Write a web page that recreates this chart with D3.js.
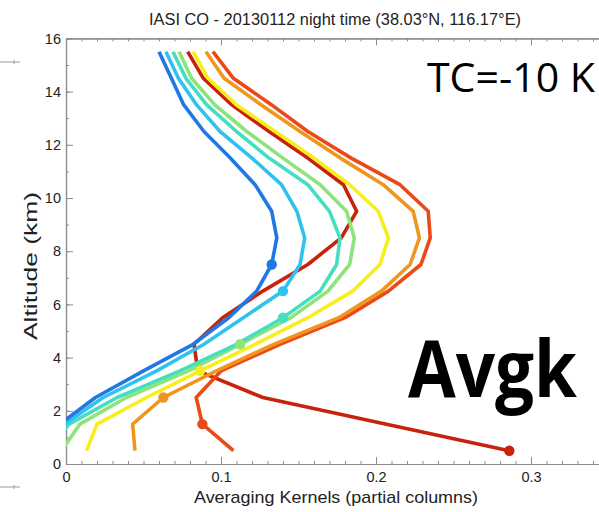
<!DOCTYPE html>
<html>
<head>
<meta charset="utf-8">
<script src="https://cdn.jsdelivr.net/npm/d3@7"></script>
<style>
  html, body { margin: 0; padding: 0; background: #fff; }
  svg { display: block; }
  .tick text { font-family: "Liberation Sans", Arial, sans-serif; fill: #222; }
</style>
</head>
<body>
<svg id="chart" width="599" height="512"></svg>
<script>
// Retrieval layer mid-altitudes (km)
const altitudes = [0.5, 1.5, 2.5, 3.5, 4.5, 5.5, 6.5, 7.5, 8.5, 9.5, 10.5, 11.5, 12.5, 13.5, 14.5, 15.5];

// Averaging kernel rows (partial columns), one per layer, listed bottom to top
const akLayer1 = [0.286, 0.206, 0.127, 0.085, 0.0826, 0.101, 0.127, 0.156, 0.1776, 0.1875, 0.179, 0.156, 0.131, 0.107, 0.0886, 0.0785];
const akLayer2 = [0.108, 0.088, 0.084, 0.100, 0.138, 0.180, 0.208, 0.229, 0.235, 0.2337, 0.2155, 0.184, 0.156, 0.1327, 0.108, 0.0948];
const akLayer3 = [0.0445, 0.043, 0.0628, 0.097, 0.134, 0.176, 0.2035, 0.222, 0.228, 0.224, 0.2047, 0.177, 0.151, 0.126, 0.102, 0.0903];
const akLayer4 = [0.0133, 0.020, 0.052, 0.0865, 0.122, 0.156, 0.185, 0.2026, 0.208, 0.2015, 0.183, 0.160, 0.135, 0.110, 0.0916, 0.082];
const akLayer5 = [-0.003, 0.009, 0.039, 0.079, 0.1123, 0.145, 0.169, 0.183, 0.186, 0.181, 0.164, 0.140, 0.1166, 0.096, 0.081, 0.073];
const akLayer6 = [-0.012, 0.002, 0.033, 0.0735, 0.110, 0.140, 0.164, 0.1746, 0.1768, 0.170, 0.156, 0.131, 0.110, 0.0908, 0.0774, 0.069];
const akLayer7 = [-0.020, -0.001, 0.024, 0.0585, 0.089, 0.1144, 0.140, 0.151, 0.154, 0.149, 0.139, 0.120, 0.0994, 0.0843, 0.0725, 0.0645];
const akLayer8 = [-0.030, -0.004, 0.019, 0.050, 0.082, 0.105, 0.123, 0.1327, 0.136, 0.1327, 0.122, 0.106, 0.089, 0.076, 0.068, 0.060];

const kernels = [akLayer1, akLayer2, akLayer3, akLayer4, akLayer5, akLayer6, akLayer7, akLayer8];
// Level index where each kernel row is marked (its own layer)
const markerIndex = [0, 1, 2, 3, 4, 5, 6, 7];
const lineColors = ["#c8220c", "#e94a17", "#f0961f", "#f9ee1c", "#8ee37a", "#45dfbf", "#2fc2ef", "#1f78e4"];

const xTickValues = [0, 0.1, 0.2, 0.3];
const yTickValues = [0, 2, 4, 6, 8, 10, 12, 14, 16];

const titleText = "IASI CO - 20130112 night time (38.03°N, 116.17°E)";
const xLabel = "Averaging Kernels (partial columns)";
const yLabel = "Altitude (km)";
const noteText = "TC=-10 K";
const bigText = "Avgk";

(function draw() {
  const svg = d3.select("#chart");
  const plotLeft = 66, plotTop = 38.4, plotBottom = 464;
  const x = d3.scaleLinear().domain([0, 0.35]).range([plotLeft, plotLeft + 0.35 * 1550]);
  const y = d3.scaleLinear().domain([0, 16]).range([plotBottom, plotTop]);
  const plotRight = x(0.35);

  // stray margin marks at the left edge
  const marks = svg.append("g").attr("stroke", "#9a9a9a").attr("stroke-width", 1);
  [62, 487].forEach(yy => {
    marks.append("line").attr("x1", 0).attr("x2", 20).attr("y1", yy).attr("y2", yy);
    marks.append("line").attr("x1", 14).attr("x2", 14).attr("y1", yy - 2).attr("y2", yy + 2);
  });

  // axes: inward major and minor ticks
  const axisColor = "#8c8c8c";
  const xMinor = d3.range(0, 0.351, 0.01);
  const yMinor = d3.range(0, 16.01, 1);

  function styleAxis(g) {
    g.selectAll("path.domain").attr("stroke", axisColor).attr("stroke-width", 1.2);
    g.selectAll(".tick line").attr("stroke", axisColor).attr("stroke-width", 1);
  }

  svg.append("g").attr("transform", `translate(0,${plotBottom})`)
    .call(d3.axisBottom(x).tickValues(xMinor).tickSize(-3).tickSizeOuter(0).tickFormat(""))
    .call(styleAxis);
  svg.append("g").attr("transform", `translate(0,${plotBottom})`)
    .call(d3.axisBottom(x).tickValues(xTickValues).tickSize(-7).tickSizeOuter(0).tickPadding(8)
      .tickFormat(d => d === 0 ? "0" : d3.format(".1f")(d)))
    .call(styleAxis)
    .call(g => g.selectAll(".tick text").attr("font-size", 14.5));

  svg.append("g").attr("transform", `translate(0,${plotTop})`)
    .call(d3.axisTop(x).tickValues(xMinor).tickSize(-3).tickSizeOuter(0).tickFormat(""))
    .call(styleAxis);
  svg.append("g").attr("transform", `translate(0,${plotTop})`)
    .call(d3.axisTop(x).tickValues(xTickValues).tickSize(-7).tickSizeOuter(0).tickFormat(""))
    .call(styleAxis);

  svg.append("g").attr("transform", `translate(${plotLeft},0)`)
    .call(d3.axisLeft(y).tickValues(yMinor).tickSize(-3).tickSizeOuter(0).tickFormat(""))
    .call(styleAxis);
  svg.append("g").attr("transform", `translate(${plotLeft},0)`)
    .call(d3.axisLeft(y).tickValues(yTickValues).tickSize(-7).tickSizeOuter(0).tickPadding(5).tickFormat(d3.format("d")))
    .call(styleAxis)
    .call(g => g.selectAll(".tick text").attr("font-size", 14.5));

  // kernel curves, clipped to the plotting box
  svg.append("clipPath").attr("id", "plotClip")
    .append("rect").attr("x", plotLeft).attr("y", plotTop)
    .attr("width", plotRight - plotLeft).attr("height", plotBottom - plotTop);

  const line = d3.line().x(d => x(d[0])).y(d => y(d[1]));
  const curves = svg.append("g").attr("clip-path", "url(#plotClip)");

  kernels.forEach((row, i) => {
    const pts = row.map((v, k) => [v, altitudes[k]]);
    curves.append("path")
      .attr("d", line(pts))
      .attr("fill", "none")
      .attr("stroke", lineColors[i])
      .attr("stroke-width", 3.6)
      .attr("stroke-linejoin", "round")
      .attr("stroke-linecap", "butt");
  });
  kernels.forEach((row, i) => {
    const k = markerIndex[i];
    curves.append("circle")
      .attr("cx", x(row[k]))
      .attr("cy", y(altitudes[k]))
      .attr("r", 5.2)
      .attr("fill", lineColors[i]);
  });

  // titles
  svg.append("text")
    .attr("x", 335).attr("y", 25)
    .attr("text-anchor", "middle")
    .attr("font-family", "Liberation Sans, Arial, sans-serif")
    .attr("font-size", 16).attr("fill", "#222")
    .attr("textLength", 372).attr("lengthAdjust", "spacingAndGlyphs")
    .text(titleText);

  svg.append("text")
    .attr("x", 336).attr("y", 503)
    .attr("text-anchor", "middle")
    .attr("font-family", "Liberation Sans, Arial, sans-serif")
    .attr("font-size", 17).attr("fill", "#222")
    .attr("textLength", 284).attr("lengthAdjust", "spacingAndGlyphs")
    .text(xLabel);

  svg.append("text")
    .attr("transform", "translate(37,266) rotate(-90)")
    .attr("text-anchor", "middle")
    .attr("font-family", "Liberation Sans, Arial, sans-serif")
    .attr("font-size", 18).attr("fill", "#222")
    .attr("textLength", 148).attr("lengthAdjust", "spacingAndGlyphs")
    .text(yLabel);

  // annotations
  svg.append("text")
    .attr("x", 427).attr("y", 92)
    .attr("font-family", "Open Sans, Lato, sans-serif")
    .attr("font-size", 41).attr("fill", "#000")
    .attr("textLength", 168).attr("lengthAdjust", "spacingAndGlyphs")
    .text(noteText);

  svg.append("text")
    .attr("x", 408).attr("y", 397)
    .attr("font-family", "Open Sans, Lato, sans-serif")
    .attr("font-weight", "bold")
    .attr("font-size", 78).attr("fill", "#000")
    .attr("textLength", 169).attr("lengthAdjust", "spacingAndGlyphs")
    .text(bigText);
})();
</script>
</body>
</html>
